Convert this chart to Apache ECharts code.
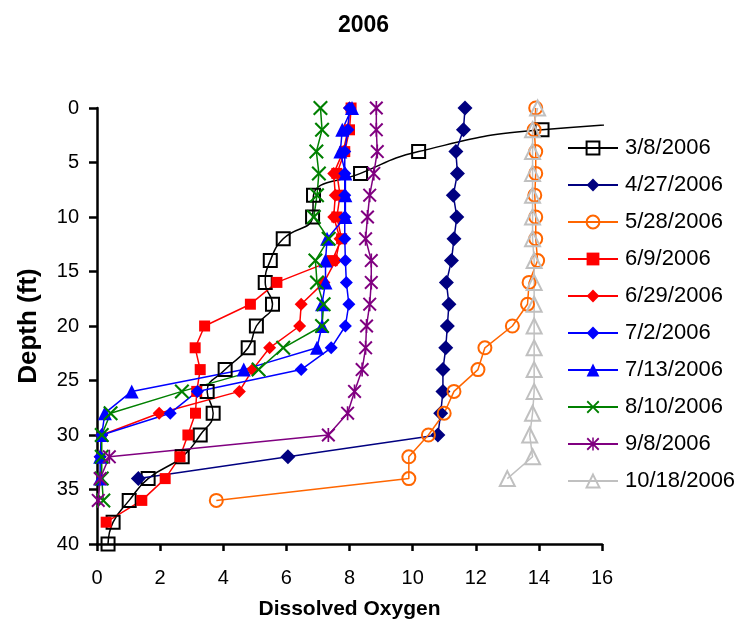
<!DOCTYPE html>
<html>
<head>
<meta charset="utf-8">
<script src="https://cdn.jsdelivr.net/npm/echarts@6/dist/echarts.min.js"></script>
<style>
  html, body { margin: 0; padding: 0; background: #fff; }
  #chart { width: 735px; height: 633px; }
</style>
</head>
<body>
<div id="chart"></div>
<script>
// depth (ft) of each reading, every 2 ft from the surface
var depths = [0, 2, 4, 6, 8, 10, 12, 14, 16, 18, 20, 22, 24, 26, 28, 30, 32, 34, 36, 38, 40]

// dissolved oxygen per survey, read top to bottom
var do0308 = [27, 14.1, 10.19, 8.35, 6.86, 6.83, 5.9, 5.49, 5.33, 5.56, 5.05, 4.79, 4.06, 3.49, 3.68, 3.27, 2.7, 1.62, 1.02, 0.51, 0.35]
var do0427 = [11.66, 11.61, 11.37, 11.42, 11.29, 11.4, 11.31, 11.23, 11.07, 11.15, 11.1, 11.05, 10.96, 10.96, 10.89, 10.8, 6.05, 1.31]
var do0528 = [13.9, 13.85, 13.9, 13.9, 13.87, 13.9, 13.9, 13.96, 13.69, 13.64, 13.16, 12.29, 12.07, 11.31, 11.0, 10.5, 9.88, 9.88, 3.78]
var do0609 = [8.05, 8.0, 7.85, 7.6, 7.7, 7.6, 7.75, 7.45, 5.7, 4.86, 3.41, 3.11, 3.27, 3.16, 3.12, 2.88, 2.63, 2.16, 1.42, 0.29]
var do0629 = [8.0, 7.95, 7.8, 7.5, 7.55, 7.5, 7.7, 7.56, 7.19, 6.47, 6.42, 5.47, 4.93, 4.51, 1.97, 0.15, 0.1]
var do0702 = [8.0, 7.95, 7.85, 7.85, 7.85, 7.85, 7.85, 7.87, 7.9, 7.98, 7.87, 7.42, 6.47, 3.18, 2.32, 0.15, 0.1]
var do0713 = [8.08, 7.77, 7.71, 7.87, 7.87, 7.87, 7.29, 7.24, 7.24, 7.13, 7.13, 6.97, 4.65, 1.1, 0.25, 0.15, 0.1, 0.1]
var do0810 = [7.08, 7.13, 6.95, 7.03, 6.97, 6.87, 7.34, 6.92, 6.97, 7.18, 7.13, 5.9, 5.12, 2.69, 0.43, 0.15, 0.15, 0.15, 0.2]
var do0908 = [8.85, 8.85, 8.88, 8.77, 8.64, 8.57, 8.51, 8.69, 8.69, 8.64, 8.54, 8.51, 8.4, 8.16, 7.94, 7.33, 0.39, 0.1, 0.04]
var do1018 = [13.96, 13.8, 13.8, 13.8, 13.8, 13.8, 13.8, 13.85, 13.85, 13.85, 13.85, 13.85, 13.85, 13.85, 13.8, 13.71, 13.8, 13.0]

var xTicks = [0, 2, 4, 6, 8, 10, 12, 14, 16]
var yTicks = [0, 5, 10, 15, 20, 25, 30, 35, 40]

var FONT = 'Liberation Sans, Arial, sans-serif'

// X drawn as a filled outline so it can be used as a marker
var xMark = 'path://M0,1L1,0L5,4L9,0L10,1L6,5L10,9L9,10L5,6L1,10L0,9L4,5Z'
var starMark = 'path://M0,1L1,0L5,4L9,0L10,1L6,5L10,9L9,10L5,6L1,10L0,9L4,5Z M4.4,0L5.6,0L5.6,10L4.4,10Z'

function pairs(vals) {
  return vals.map(function (v, i) { return [v, depths[i]] })
}

function makeSeries(name, vals, color, symbol, size, hollow, smooth) {
  return {
    name: name,
    type: 'line',
    smooth: !!smooth,
    data: pairs(vals),
    symbol: symbol,
    symbolSize: size,
    clip: true,
    lineStyle: { color: color, width: 1.5 },
    itemStyle: hollow
      ? { color: 'rgba(255,255,255,0)', borderColor: color, borderWidth: 2 }
      : { color: color, borderWidth: 0 },
    emphasis: { disabled: true }
  }
}

var chart = echarts.init(document.getElementById('chart'))

chart.setOption({
  animation: false,
  title: {
    text: '2006',
    left: 333,
    top: 9,
    textStyle: { fontFamily: FONT, fontWeight: 'bold', fontSize: 23, color: '#000' }
  },
  legend: {
    orient: 'vertical',
    left: 562,
    top: 132,
    itemWidth: 50,
    itemHeight: 16,
    itemGap: 15,
    textStyle: { fontFamily: FONT, fontSize: 22, color: '#000', padding: [0, 0, 0, 2] },
    data: ['3/8/2006', '4/27/2006', '5/28/2006', '6/9/2006', '6/29/2006',
      '7/2/2006', '7/13/2006', '8/10/2006', '9/8/2006', '10/18/2006']
  },
  grid: { left: 97, right: 133, top: 108, bottom: 89, containLabel: false },
  xAxis: {
    type: 'value',
    min: xTicks[0],
    max: xTicks[xTicks.length - 1],
    interval: 2,
    name: 'Dissolved Oxygen',
    nameLocation: 'middle',
    nameGap: 55,
    nameTextStyle: { fontFamily: FONT, fontWeight: 'bold', fontSize: 21, color: '#000' },
    axisLine: { onZero: false, lineStyle: { color: '#000', width: 2.5 } },
    axisTick: { length: 7, lineStyle: { color: '#000', width: 2.5 } },
    axisLabel: { fontFamily: FONT, fontSize: 20, color: '#000', margin: 24 },
    splitLine: { show: false }
  },
  yAxis: {
    type: 'value',
    inverse: true,
    min: yTicks[0],
    max: yTicks[yTicks.length - 1],
    interval: 5,
    name: 'Depth (ft)',
    nameLocation: 'middle',
    nameRotate: 90,
    nameGap: 55,
    nameTextStyle: { fontFamily: FONT, fontWeight: 'bold', fontSize: 26, color: '#000' },
    axisLine: { onZero: false, lineStyle: { color: '#000', width: 2.5 } },
    axisTick: { length: 8, lineStyle: { color: '#000', width: 2.5 } },
    axisLabel: { fontFamily: FONT, fontSize: 20, color: '#000', margin: 18 },
    splitLine: { show: false }
  },
  series: [
    makeSeries('3/8/2006', do0308, '#000000', 'rect', 13, true, true),
    makeSeries('4/27/2006', do0427, '#000080', 'diamond', 15, false),
    makeSeries('5/28/2006', do0528, '#FF6600', 'circle', 13, true),
    makeSeries('6/9/2006', do0609, '#FF0000', 'rect', 11, false),
    makeSeries('6/29/2006', do0629, '#FF0000', 'diamond', 13, false),
    makeSeries('7/2/2006', do0702, '#0000FF', 'diamond', 13, false),
    makeSeries('7/13/2006', do0713, '#0000FF', 'triangle', 14, false),
    makeSeries('8/10/2006', do0810, '#008000', xMark, 15, false),
    makeSeries('9/8/2006', do0908, '#800080', starMark, 14, false),
    makeSeries('10/18/2006', do1018, '#C0C0C0', 'triangle', 15, true)
  ]
})
</script>
</body>
</html>
